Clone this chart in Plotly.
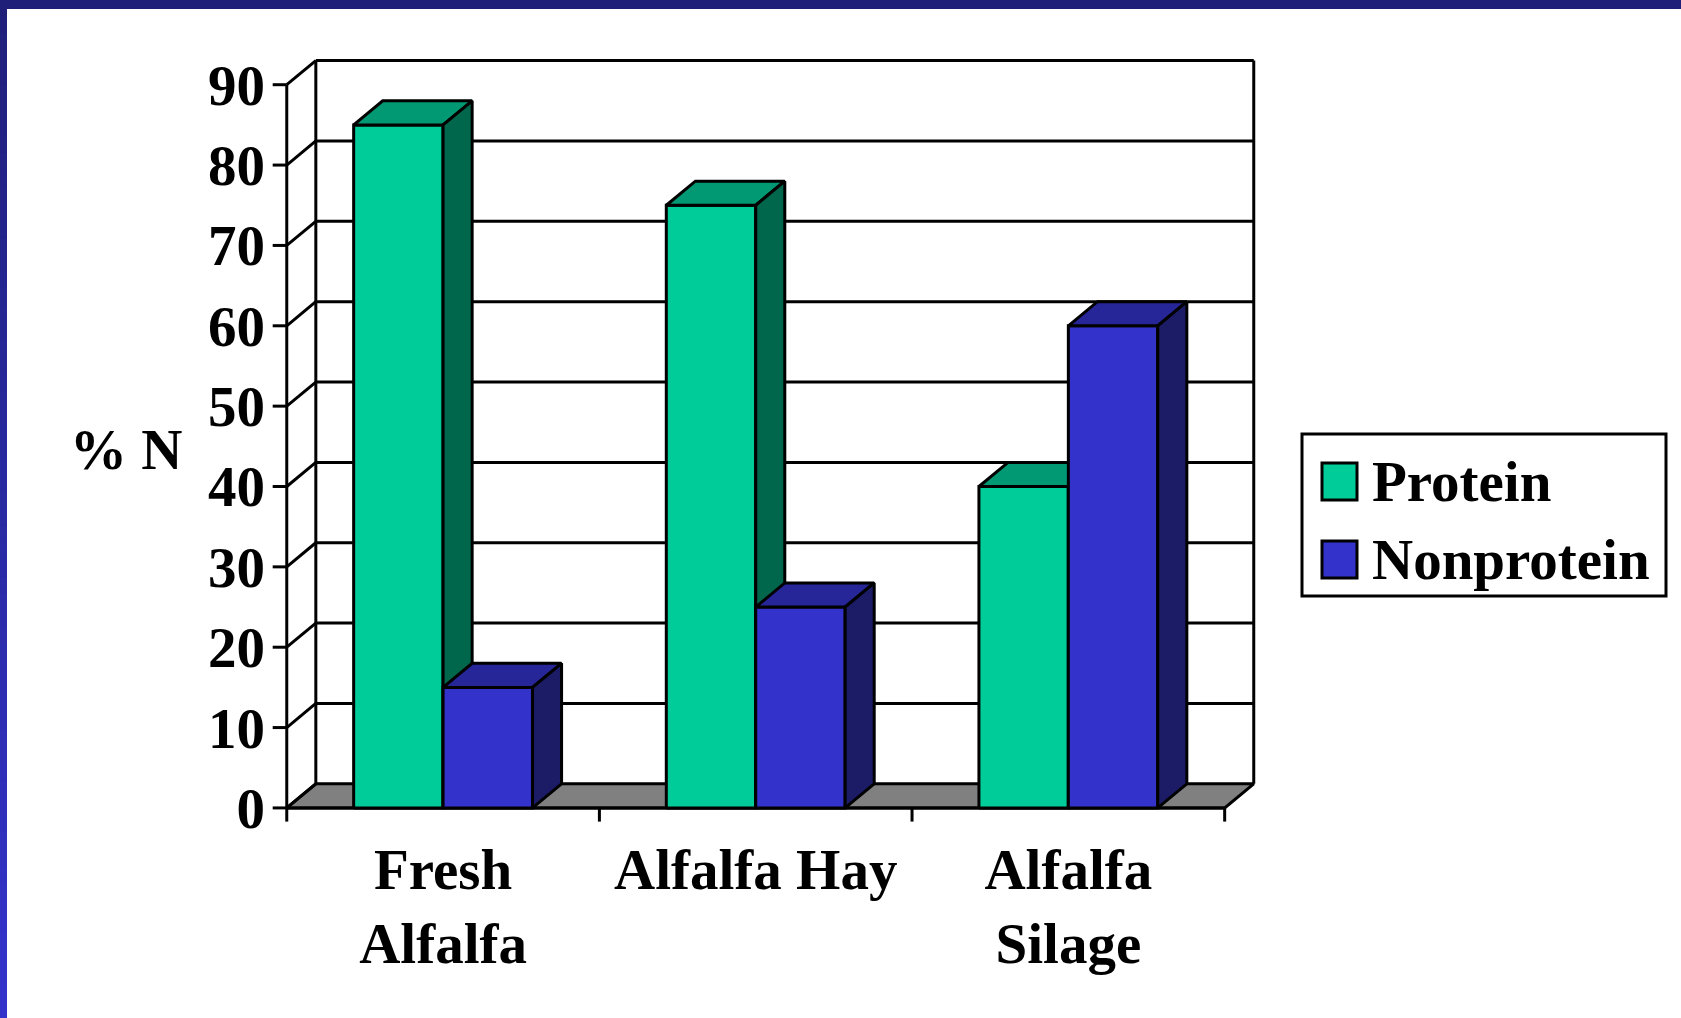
import plotly.graph_objects as go

# ---- data ----
categories = ["Fresh<br>Alfalfa", "Alfalfa Hay", "Alfalfa<br>Silage"]
series_names = ["Protein", "Nonprotein"]
protein = [85, 75, 40]
nonprotein = [15, 25, 60]
y_ticks = [0, 10, 20, 30, 40, 50, 60, 70, 80, 90]
y_title = "% N"

# ---- styles ----
FONT = "Liberation Serif"
FS = 57
front_cols = ["#00CC99", "#3333CC"]
top_cols = ["#009973", "#262699"]
side_cols = ["#00664C", "#1C1C66"]
FLOOR = "#808080"
LW = 3

# 3D depth offsets (in axis units)
DX = 0.093
DY = 3.0
BAR_W = 0.286
offsets = [-BAR_W, 0.0]
YMAX = 90

# layout geometry
W, H = 1681, 1018
ML, MR, MT, MB = 268, 421, 59, 194
XR = [-0.56, 2.5 + DX + 0.02]
YR = [-2.0, YMAX + DY + 0.2]
PW = W - ML - MR
PH = H - MT - MB


def px2paper(px, py):
    return (px - ML) / PW, (H - MB - py) / PH


fig = go.Figure()


def poly(xs, ys, fill):
    fig.add_trace(go.Scatter(
        x=list(xs) + [xs[0]], y=list(ys) + [ys[0]],
        mode="lines", fill="toself", fillcolor=fill,
        line=dict(color="black", width=LW),
        hoverinfo="skip", showlegend=False))


def lines(segs):
    xs, ys = [], []
    for (x0, y0, x1, y1) in segs:
        xs += [x0, x1, None]
        ys += [y0, y1, None]
    fig.add_trace(go.Scatter(x=xs, y=ys, mode="lines",
                             line=dict(color="black", width=LW),
                             hoverinfo="skip", showlegend=False))


n = len(categories)
x_left, x_right = -0.5, n - 0.5

# floor
poly([x_left, x_right, x_right + DX, x_left + DX], [0, 0, DY, DY], FLOOR)

# walls, gridlines, axes
segs = []
for v in y_ticks:
    segs.append((x_left, v, x_left + DX, v + DY))
    if v > 0:
        segs.append((x_left + DX, v + DY, x_right + DX, v + DY))
    segs.append((x_left - 0.045, v, x_left, v))
segs.append((x_left + DX, DY, x_left + DX, YMAX + DY))
segs.append((x_right + DX, DY, x_right + DX, YMAX + DY))
segs.append((x_left, 0, x_left, YMAX))
segs.append((x_left, 0, x_right, 0))
for k in range(n + 1):
    segs.append((x_left + k, 0, x_left + k, -1.7))
lines(segs)

# bars
vals = [protein, nonprotein]
for i in range(n):
    for s in range(2):
        v = vals[s][i]
        x0 = i + offsets[s]
        x1 = x0 + BAR_W
        poly([x0, x1, x1, x0], [0, 0, v, v], front_cols[s])
        poly([x0, x1, x1 + DX, x0 + DX], [v, v, v + DY, v + DY], top_cols[s])
        poly([x1, x1 + DX, x1 + DX, x1], [0, DY, v + DY, v], side_cols[s])

shapes = []
annotations = []

# border: top band and left gradient band
shapes.append(dict(type="rect", xref="paper", yref="paper",
                   x0=px2paper(0, 0)[0], x1=px2paper(W, 0)[0],
                   y0=px2paper(0, 9)[1], y1=px2paper(0, 0)[1],
                   fillcolor="#1F1F7A", line=dict(width=0), layer="above"))
NSEG = 60
c0 = (0x1F, 0x1F, 0x7A)
c1 = (0x33, 0x33, 0xCC)
for k in range(NSEG):
    t = k / (NSEG - 1)
    col = "rgb(%d,%d,%d)" % tuple(round(c0[j] + (c1[j] - c0[j]) * t) for j in range(3))
    ya = k * H / NSEG
    yb = (k + 1) * H / NSEG + 1
    shapes.append(dict(type="rect", xref="paper", yref="paper",
                       x0=px2paper(0, 0)[0], x1=px2paper(7, 0)[0],
                       y0=px2paper(0, yb)[1], y1=px2paper(0, ya)[1],
                       fillcolor=col, line=dict(width=0), layer="above"))

# legend (drawn manually for large square keys)
bx0, by0 = px2paper(1302, 596)
bx1, by1 = px2paper(1666, 434)
shapes.append(dict(type="rect", xref="paper", yref="paper",
                   x0=bx0, x1=bx1, y0=by0, y1=by1,
                   fillcolor="white", line=dict(color="black", width=LW)))
key_y = [(463, 500), (541, 578)]
for s in range(2):
    kx0, ky0 = px2paper(1322, key_y[s][1])
    kx1, ky1 = px2paper(1357, key_y[s][0])
    shapes.append(dict(type="rect", xref="paper", yref="paper",
                       x0=kx0, x1=kx1, y0=ky0, y1=ky1,
                       fillcolor=front_cols[s], line=dict(color="black", width=LW)))
    tx, ty = px2paper(1370, (key_y[s][0] + key_y[s][1]) / 2)
    annotations.append(dict(text=series_names[s], xref="paper", yref="paper",
                            x=tx, y=ty, xanchor="left", yanchor="middle",
                            showarrow=False,
                            font=dict(family=FONT, size=FS, color="black", weight="bold")))

# y title
tx, ty = px2paper(126, 450)
annotations.append(dict(text=y_title, xref="paper", yref="paper", x=tx, y=ty,
                        xanchor="center", yanchor="middle", showarrow=False,
                        font=dict(family=FONT, size=FS, color="black", weight="bold")))

fig.update_layout(
    width=W, height=H,
    margin=dict(l=ML, r=MR, t=MT, b=MB, pad=0),
    paper_bgcolor="white", plot_bgcolor="white",
    showlegend=False,
    shapes=shapes, annotations=annotations,
    xaxis=dict(range=XR, showgrid=False, zeroline=False, showline=False,
               tickvals=list(range(n)), ticktext=categories, ticks="",
               ticklabelstandoff=7,
               tickfont=dict(family=FONT, size=FS, color="black", weight="bold"),
               fixedrange=True),
    yaxis=dict(range=YR, showgrid=False, zeroline=False, showline=False,
               tickvals=y_ticks, ticktext=[str(v) for v in y_ticks], ticks="",
               ticklabelstandoff=2,
               tickfont=dict(family=FONT, size=FS, color="black", weight="bold"),
               fixedrange=True),
)

fig.write_html("out.html",
               config={"displayModeBar": False},
               post_script="document.body.style.margin='0px';"
                           "document.body.style.overflow='hidden';")
